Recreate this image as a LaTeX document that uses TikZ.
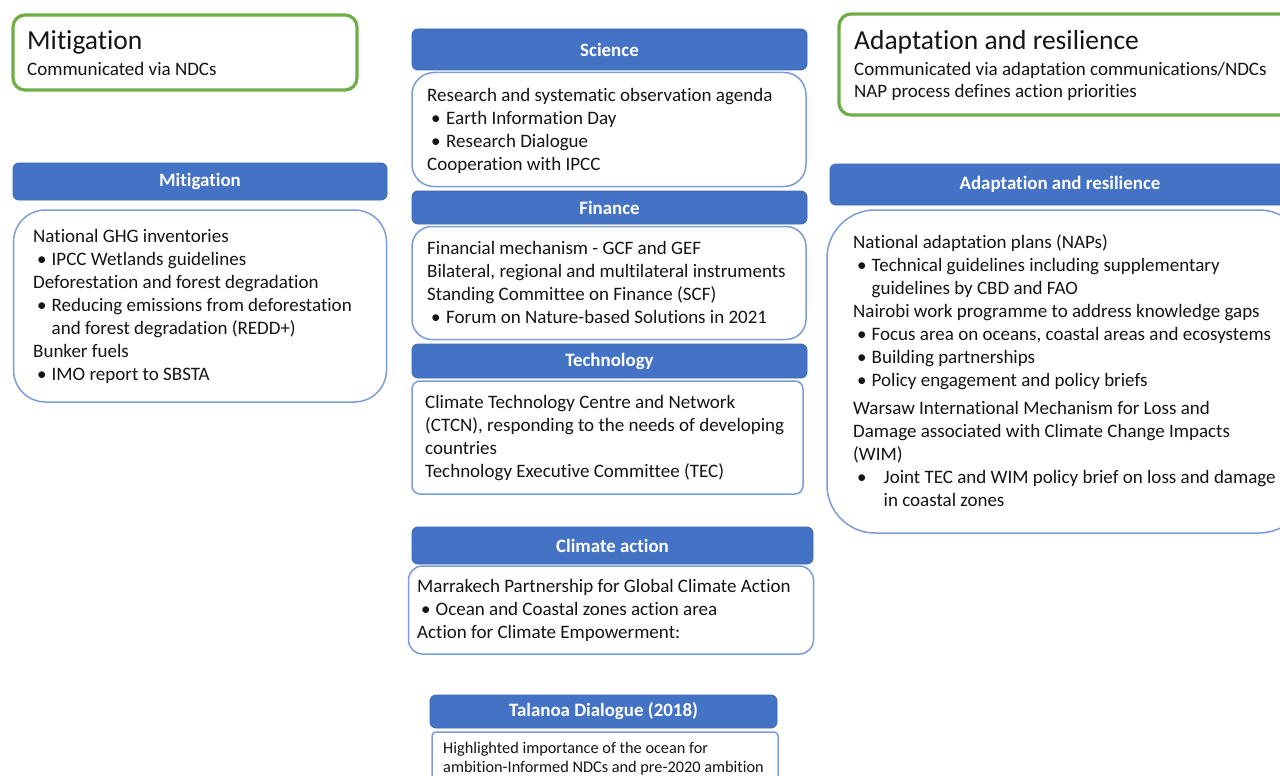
\documentclass[tikz,border=0pt]{standalone}
\usepackage{fontspec}
\setmainfont{Carlito}[Ligatures={NoCommon}]
\definecolor{hdrblue}{HTML}{4472C4}
\definecolor{hdredge}{HTML}{3B66B5}
\definecolor{bodyedge}{HTML}{7A9CD8}
\definecolor{keygreen}{HTML}{70AD47}
\definecolor{ink}{HTML}{141414}

% Lines of a text block: y-baseline / bullet flag / text offset / text
\newcommand\textblock[4]{%
  \foreach \ly/\lb/\lo/\lx [count=\li] in {#4} {%
    \node[#2] (#1-\li) at (#3+\lo,\ly) {\lx};
    \ifnum\lb=1 \node[#2] (#1-dot\li) at (#3+4,\ly) {•};\fi
  }%
}

\begin{document}
\begin{tikzpicture}[x=1pt,y=-1pt,
  keybox/.style={draw=keygreen, line width=3.2pt, rounded corners=12pt,
    anchor=north west, inner sep=0pt, outer sep=0pt},
  hdrbox/.style={fill=hdrblue, draw=hdredge, line width=0.8pt, rounded corners=6pt,
    anchor=north west, inner sep=0pt, outer sep=0pt, text=white,
    font=\bfseries\fontsize{18.9}{22}\selectfont},
  bodybox/.style={draw=bodyedge, line width=1.5pt, fill=white,
    anchor=north west, inner sep=0pt, outer sep=0pt},
  ln/.style={anchor=base west, inner sep=0pt, text=ink,
    font=\fontsize{19}{22}\selectfont},
  smallln/.style={anchor=base west, inner sep=0pt, text=ink,
    font=\fontsize{16.3}{19}\selectfont},
  bigln/.style={anchor=base west, inner sep=0pt, text=ink,
    font=\fontsize{27.5}{30}\selectfont}]
\useasboundingbox (0,0) rectangle (1280,776);
\clip (0,0) rectangle (1280,776);
\fill[white] (0,0) rectangle (1280,776);

% ---- Key boxes (green) ----
\node[keybox, minimum width=344pt, minimum height=75pt] (mitkey) at (13,15) {};
\node[bigln] (mitkey-t) at (27,50) {Mitigation};
\node[ln] (mitkey-s) at (27,75) {Communicated via NDCs};

\node[keybox, minimum width=460pt, minimum height=101pt] (adakey) at (839,14) {};
\node[bigln] (adakey-t) at (854,50) {Adaptation and resilience};
\node[ln] (adakey-s1) at (854,75) {Communicated via adaptation communications/NDCs};
\node[ln] (adakey-s2) at (854,97.5) {NAP process defines action priorities};

% ---- Mitigation column ----
\node[hdrbox, minimum width=374pt, minimum height=37pt] (mithdr) at (13,163) {Mitigation};
\node[bodybox, rounded corners=32pt, minimum width=373pt, minimum height=192pt] (mitbody) at (13.5,210) {};
\textblock{mit}{ln}{33}{
  242/0/0/{National GHG inventories},
  265/1/18.5/{IPCC Wetlands guidelines},
  288/0/0/{Deforestation and forest degradation},
  311/1/18.5/{Reducing emissions from deforestation},
  334/0/18.5/{and forest degradation (REDD+)},
  357/0/0/{Bunker fuels},
  380/1/18.5/{IMO report to SBSTA}}

% ---- Centre column ----
\node[hdrbox, minimum width=395pt, minimum height=41pt] (scihdr) at (412,29) {Science};
\node[bodybox, rounded corners=22pt, minimum width=394pt, minimum height=114pt] (scibody) at (412,72.5) {};
\textblock{sci}{ln}{427}{
  101/0/0/{Research and systematic observation agenda},
  124/1/19/{Earth Information Day},
  147/1/19/{Research Dialogue},
  170/0/0/{Cooperation with IPCC}}

\node[hdrbox, minimum width=395pt, minimum height=33pt] (finhdr) at (412,191) {Finance};
\node[bodybox, rounded corners=20pt, minimum width=394pt, minimum height=113pt] (finbody) at (412,226.5) {};
\textblock{fin}{ln}{427}{
  254/0/0/{Financial mechanism - GCF and GEF},
  277/0/0/{Bilateral, regional and multilateral instruments},
  300/0/0/{Standing Committee on Finance (SCF)},
  323/1/19/{Forum on Nature-based Solutions in 2021}}

\node[hdrbox, minimum width=395pt, minimum height=34pt] (techhdr) at (412,344) {Technology};
\node[bodybox, rounded corners=8pt, minimum width=391pt, minimum height=113pt] (techbody) at (412,381) {};
\textblock{tech}{ln}{425}{
  408/0/0/{Climate Technology Centre and Network},
  431/0/0/{(CTCN), responding to the needs of developing},
  454/0/0/{countries},
  477/0/0/{Technology Executive Committee (TEC)}}

\node[hdrbox, minimum width=401pt, minimum height=37pt] (acthdr) at (412,527) {Climate action};
\node[bodybox, rounded corners=14pt, minimum width=405pt, minimum height=88pt] (actbody) at (408.5,566) {};
\textblock{act}{ln}{417}{
  592/0/0/{Marrakech Partnership for Global Climate Action},
  615/1/18.5/{Ocean and Coastal zones action area},
  638/0/0/{Action for Climate Empowerment:}}

\node[hdrbox, minimum width=347pt, minimum height=33pt] (talhdr) at (430,695) {Talanoa Dialogue (2018)};
\node[bodybox, rounded corners=4pt, minimum width=346pt, minimum height=80pt] (talbody) at (432,732) {};
\textblock{tal}{smallln}{443}{
  753/0/0/{Highlighted importance of the ocean for},
  772/0/0/{ambition-Informed NDCs and pre-2020 ambition}}

% ---- Adaptation column ----
\node[hdrbox, minimum width=460pt, minimum height=41pt] (adahdr) at (830,164) {Adaptation and resilience};
\node[bodybox, rounded corners=48pt, minimum width=480pt, minimum height=323pt] (adabody) at (827,210) {};
\textblock{ada}{ln}{853}{
  248/0/0/{National adaptation plans (NAPs)},
  271.5/1/18.5/{Technical guidelines including supplementary},
  294.5/0/18.5/{guidelines by CBD and FAO},
  317.5/0/0/{Nairobi work programme to address knowledge gaps},
  340.5/1/18.5/{Focus area on oceans, coastal areas and ecosystems},
  363.5/1/18.5/{Building partnerships},
  386.5/1/18.5/{Policy engagement and policy briefs},
  414/0/0/{Warsaw International Mechanism for Loss and},
  437/0/0/{Damage associated with Climate Change Impacts},
  460/0/0/{(WIM)},
  483/1/30.5/{Joint TEC and WIM policy brief on loss and damage},
  506/0/30.5/{in coastal zones}}
\end{tikzpicture}
\end{document}
